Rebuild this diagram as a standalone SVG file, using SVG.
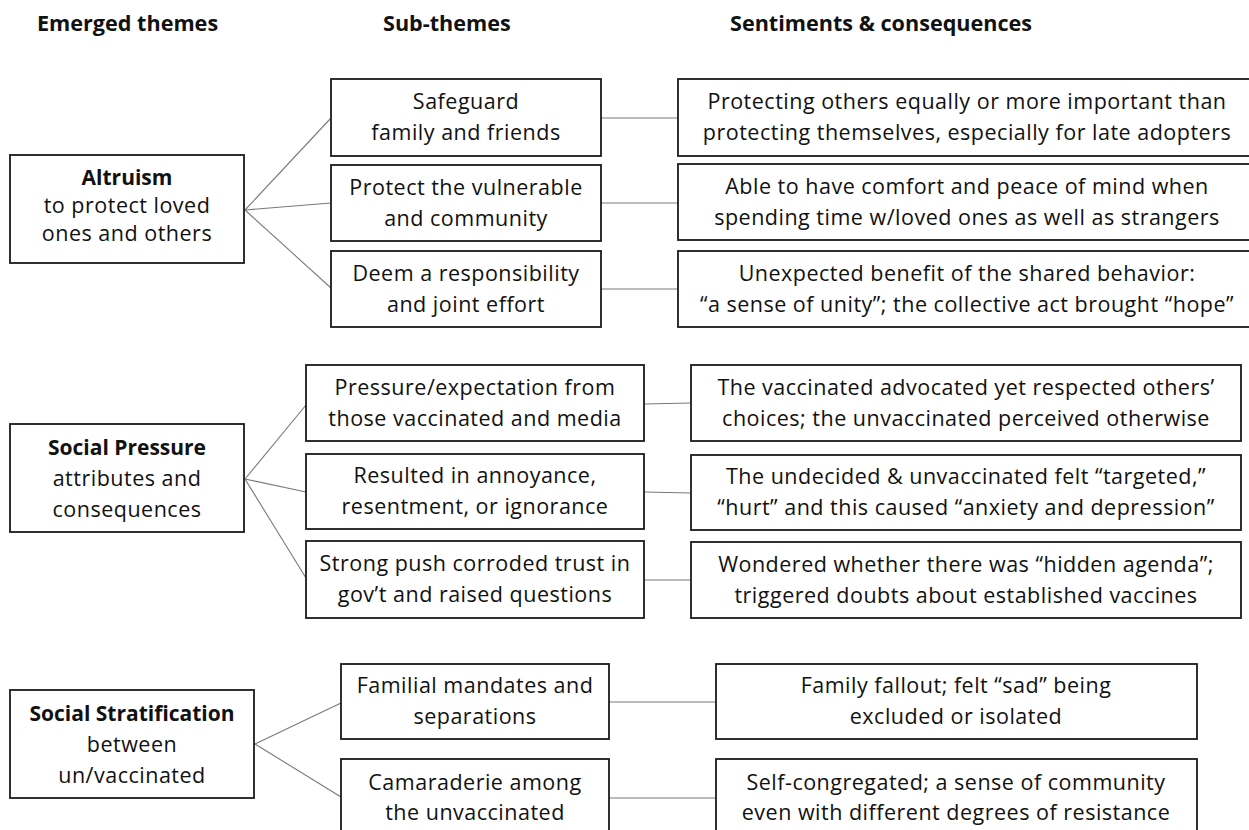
<svg xmlns="http://www.w3.org/2000/svg" width="1249" height="830" viewBox="0 0 1249 830">
<style>
  text { font-family: "Open Sans", Lato, "Liberation Sans", sans-serif; font-size: 21.5px; letter-spacing: 0.5px; fill: #111; text-anchor: middle; }
  .h { font-weight: bold; text-anchor: start; font-size: 21.6px; letter-spacing: 0; }
  .b { font-weight: bold; font-size: 21px; letter-spacing: 0; }
  rect { fill: #fff; stroke: #1a1a1a; stroke-width: 1.8; }
  #connectors line { stroke: #7a7a7a; stroke-width: 1.1; }
</style>
<rect x="0" y="0" width="1249" height="830" style="fill:#fff;stroke:none"/>
<g id="headers">
  <text class="h" x="37" y="31">Emerged themes</text>
  <text class="h" x="383" y="31">Sub-themes</text>
  <text class="h" x="730" y="31">Sentiments &amp; consequences</text>
</g>
<g id="connectors">
  <line x1="245" y1="210" x2="331" y2="118"/>
  <line x1="245" y1="210" x2="331" y2="203"/>
  <line x1="245" y1="210" x2="331" y2="288"/>
  <line x1="601" y1="118" x2="678" y2="118"/>
  <line x1="601" y1="203" x2="678" y2="203"/>
  <line x1="601" y1="289" x2="678" y2="289"/>
  <line x1="245" y1="479" x2="306" y2="405"/>
  <line x1="245" y1="479" x2="306" y2="492"/>
  <line x1="245" y1="479" x2="306" y2="578"/>
  <line x1="644" y1="404" x2="691" y2="403"/>
  <line x1="644" y1="492" x2="691" y2="493"/>
  <line x1="644" y1="580" x2="691" y2="580"/>
  <line x1="255" y1="744" x2="341" y2="703"/>
  <line x1="255" y1="744" x2="341" y2="797"/>
  <line x1="609" y1="702" x2="716" y2="702"/>
  <line x1="609" y1="798" x2="716" y2="798"/>
</g>
<g id="altruism">
  <rect x="10" y="155" width="234" height="108"/>
  <text class="b" x="127" y="185">Altruism</text>
  <text x="127" y="213">to protect loved</text>
  <text x="127" y="241">ones and others</text>
</g>
<g id="safeguard">
  <rect x="331" y="79" width="270" height="77"/>
  <text x="466" y="109">Safeguard</text>
  <text x="466" y="140">family and friends</text>
</g>
<g id="protect-vulnerable">
  <rect x="331" y="165" width="270" height="76"/>
  <text x="466" y="194.5">Protect the vulnerable</text>
  <text x="466" y="225.5">and community</text>
</g>
<g id="responsibility">
  <rect x="331" y="251" width="270" height="76"/>
  <text x="466" y="280.5">Deem a responsibility</text>
  <text x="466" y="311.5">and joint effort</text>
</g>
<g id="protecting-others">
  <rect x="678" y="79" width="580" height="77"/>
  <text x="967" y="109">Protecting others equally or more important than</text>
  <text x="967" y="140">protecting themselves, especially for late adopters</text>
</g>
<g id="comfort">
  <rect x="678" y="164" width="580" height="76"/>
  <text x="967" y="194">Able to have comfort and peace of mind when</text>
  <text x="967" y="225">spending time w/loved ones as well as strangers</text>
</g>
<g id="unity">
  <rect x="678" y="251" width="580" height="76"/>
  <text x="967" y="280.5">Unexpected benefit of the shared behavior:</text>
  <text x="967" y="311.5">“a sense of unity”; the collective act brought “hope”</text>
</g>
<g id="social-pressure">
  <rect x="10" y="424" width="234" height="108"/>
  <text class="b" x="127" y="455">Social Pressure</text>
  <text x="127" y="486">attributes and</text>
  <text x="127" y="517">consequences</text>
</g>
<g id="pressure-expectation">
  <rect x="306" y="365" width="338" height="76"/>
  <text x="475" y="394.5">Pressure/expectation from</text>
  <text x="475" y="425.5">those vaccinated and media</text>
</g>
<g id="annoyance">
  <rect x="306" y="454" width="338" height="75"/>
  <text x="475" y="483">Resulted in annoyance,</text>
  <text x="475" y="514">resentment, or ignorance</text>
</g>
<g id="corroded-trust">
  <rect x="306" y="541" width="338" height="77"/>
  <text x="475" y="571">Strong push corroded trust in</text>
  <text x="475" y="602">gov’t and raised questions</text>
</g>
<g id="advocated">
  <rect x="691" y="365" width="550" height="76"/>
  <text x="966" y="394.5">The vaccinated advocated yet respected others’</text>
  <text x="966" y="425.5">choices; the unvaccinated perceived otherwise</text>
</g>
<g id="targeted">
  <rect x="691" y="455" width="550" height="75"/>
  <text x="966" y="484">The undecided &amp; unvaccinated felt “targeted,”</text>
  <text x="966" y="515">“hurt” and this caused “anxiety and depression”</text>
</g>
<g id="hidden-agenda">
  <rect x="691" y="542" width="550" height="76"/>
  <text x="966" y="571.5">Wondered whether there was “hidden agenda”;</text>
  <text x="966" y="602.5">triggered doubts about established vaccines</text>
</g>
<g id="social-stratification">
  <rect x="10" y="690" width="244" height="108"/>
  <text class="b" x="132" y="721">Social Stratification</text>
  <text x="132" y="752">between</text>
  <text x="132" y="783">un/vaccinated</text>
</g>
<g id="familial-mandates">
  <rect x="341" y="664" width="268" height="75"/>
  <text x="475" y="693">Familial mandates and</text>
  <text x="475" y="724">separations</text>
</g>
<g id="camaraderie">
  <rect x="341" y="759" width="268" height="80"/>
  <text x="475" y="790">Camaraderie among</text>
  <text x="475" y="820">the unvaccinated</text>
</g>
<g id="family-fallout">
  <rect x="716" y="664" width="481" height="75"/>
  <text x="956" y="693">Family fallout; felt “sad” being</text>
  <text x="956" y="724">excluded or isolated</text>
</g>
<g id="self-congregated">
  <rect x="716" y="759" width="481" height="80"/>
  <text x="956" y="790">Self-congregated; a sense of community</text>
  <text x="956" y="820">even with different degrees of resistance</text>
</g>
</svg>
